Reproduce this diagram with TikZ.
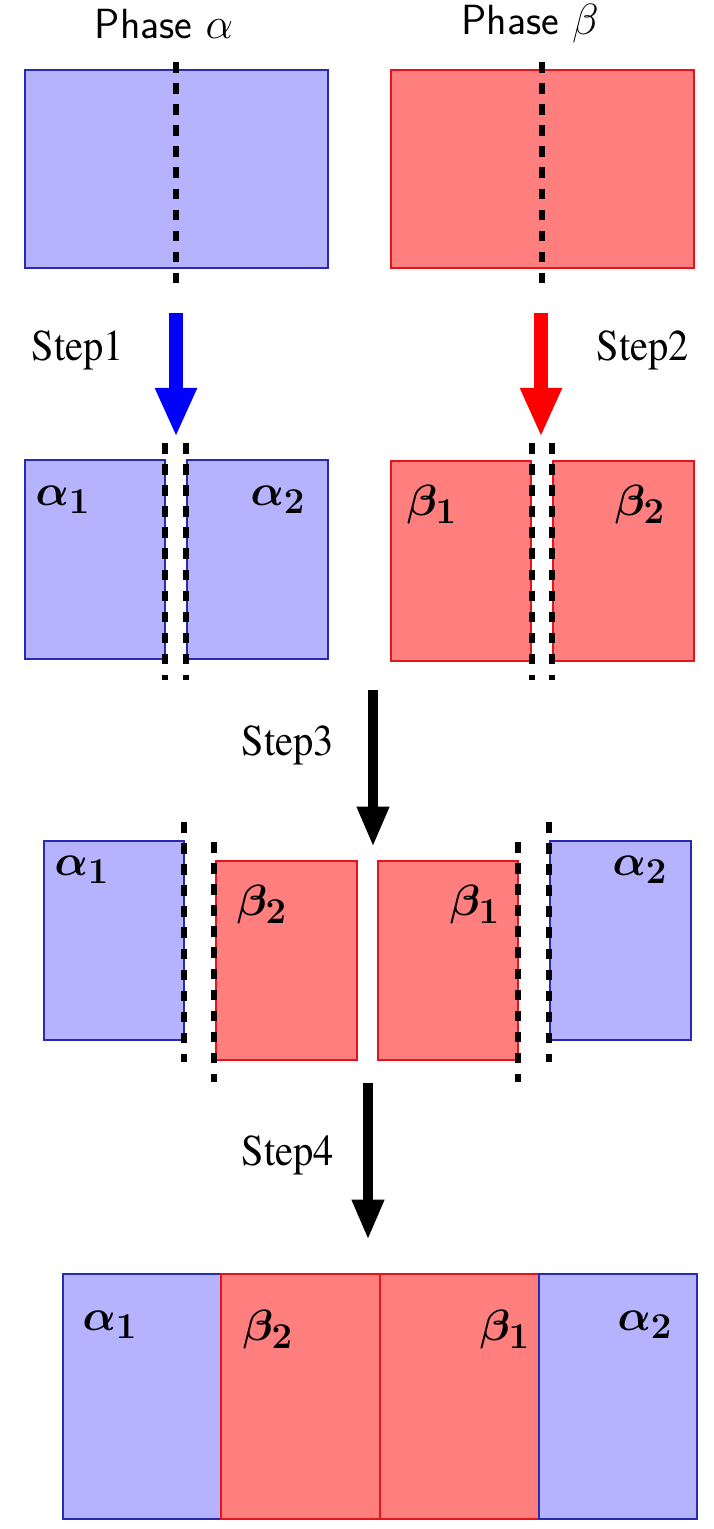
\documentclass[tikz,border=0pt]{standalone}
\usepackage{amsmath}
\usepackage{fontspec}
\usetikzlibrary{arrows.meta}
\newcommand\stepfont{\fontencoding{T1}\fontfamily{ptm}\selectfont}
\definecolor{phblue}{HTML}{B5B3FD}
\definecolor{phblueline}{HTML}{2A2AB0}
\definecolor{phred}{HTML}{FF7F7F}
\definecolor{phredline}{HTML}{E8121B}

\begin{document}
\begin{tikzpicture}[x=0.2mm, y=-0.2mm,
    ablock/.style={draw=phblueline, fill=phblue, line width=0.8pt},
    bblock/.style={draw=phredline, fill=phred, line width=0.8pt},
    cut/.style={line width=3pt, dash pattern=on 6pt off 6pt},
    steparrow/.style={line width=5.7pt, -{Triangle[length=23pt,width=17pt]}},
    bigarrow/.style={line width=8.5pt, -{Triangle[length=28pt,width=22pt]}},
    steplabel/.style={font={\fontsize{25}{29}\stepfont}, xscale=0.92},
    phaselabel/.style={font=\sffamily\fontsize{24}{28}\selectfont},
    sublabel/.style={font=\Huge}]
  \useasboundingbox (0,0) rectangle (714,1529);
  % starting phases
  \draw[ablock] (25,70) rectangle (328,268);
  \draw[bblock] (391,70) rectangle (694,268);
  \node[phaselabel] (pa) at (164,24) {Phase $\alpha$};
  \node[phaselabel] (pb) at (530,24) {Phase $\beta$};
  \draw[cut] (176,62) -- (176,285);
  \draw[cut] (542,62) -- (542,285);
  % step 1 and step 2: cut each phase in two
  \coordinate (s1a) at (176,313); \coordinate (s1b) at (176,437);
  \coordinate (s2a) at (541,313); \coordinate (s2b) at (541,437);
  \draw[bigarrow, blue] (s1a) -- (s1b);
  \draw[bigarrow, red] (s2a) -- (s2b);
  \node[steplabel] (st1) at (78,350) {Step1};
  \node[steplabel] (st2) at (643,350) {Step2};
  \draw[ablock] (25,460) rectangle (165,659);
  \draw[ablock] (187,460) rectangle (328,659);
  \draw[bblock] (391,461) rectangle (531,661);
  \draw[bblock] (553,461) rectangle (694,661);
  \foreach \x in {165,186,532,552}{ \draw[cut] (\x,443) -- (\x,680); }
  % step 3: swap the halves
  \coordinate (s3a) at (373,690); \coordinate (s3b) at (373,847);
  \draw[steparrow] (s3a) -- (s3b);
  \node[steplabel] (st3) at (288,745) {Step3};
  \draw[ablock] (44,841) rectangle (184,1040);
  \draw[bblock] (216,861) rectangle (357,1060);
  \draw[bblock] (378,861) rectangle (518,1060);
  \draw[ablock] (550,841) rectangle (691,1040);
  \foreach \x in {184,549}{ \draw[cut] (\x,822) -- (\x,1062); }
  \foreach \x in {214,518}{ \draw[cut] (\x,842) -- (\x,1082); }
  % step 4: join
  \coordinate (s4a) at (368,1083); \coordinate (s4b) at (368,1240);
  \draw[steparrow] (s4a) -- (s4b);
  \node[steplabel] (st4) at (288,1155) {Step4};
  \draw[ablock] (63,1274) rectangle (221,1519);
  \draw[bblock] (221,1274) rectangle (380,1519);
  \draw[bblock] (380,1274) rectangle (539,1519);
  \draw[ablock] (539,1274) rectangle (697,1519);
  % labels of the pieces
  \foreach \n/\x/\y/\t in {ra1/63/500/\alpha_1, ra2/278/500/\alpha_2,
      rb1/432/505/\beta_1, rb2/640/505/\beta_2,
      sa1/82/870/\alpha_1, sb2/262/905/\beta_2,
      sb1/475/905/\beta_1, sa2/640/870/\alpha_2,
      ja1/110/1325/\alpha_1, jb2/268/1330/\beta_2,
      jb1/505/1330/\beta_1, ja2/645/1325/\alpha_2}{
    \node[sublabel] (\n) at (\x,\y) {$\boldsymbol{\t}$};
  }
\end{tikzpicture}
\end{document}
